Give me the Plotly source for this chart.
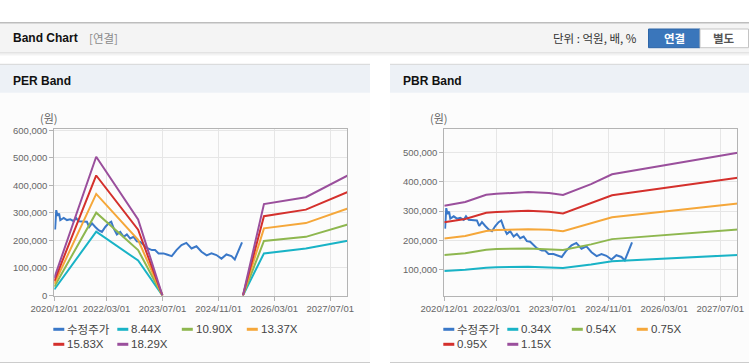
import plotly.graph_objects as go

# ---------------- data ----------------
X_TICK_VALS = ["2020-12-01", "2022-03-01", "2023-07-01", "2024-11-01", "2026-03-01", "2027-07-01"]
X_TICK_TEXT = ["2020/12/01", "2022/03/01", "2023/07/01", "2024/11/01", "2026/03/01", "2027/07/01"]
PER_Y_TICKS = [0, 100000, 200000, 300000, 400000, 500000, 600000]
PBR_Y_TICKS = [100000, 200000, 300000, 400000, 500000]

price_dates = [
    "2020-12-08", "2020-12-18", "2020-12-29", "2021-01-12", "2021-01-22", "2021-02-21",
    "2021-03-21", "2021-04-19", "2021-05-19", "2021-06-08", "2021-07-01", "2021-08-14",
    "2021-09-11", "2021-10-01", "2021-10-25", "2021-11-23", "2021-12-22", "2022-01-20",
    "2022-02-18", "2022-03-19", "2022-04-11", "2022-05-02", "2022-05-30", "2022-06-28",
    "2022-07-28", "2022-08-25", "2022-09-23", "2022-10-23", "2022-11-20", "2022-12-19",
    "2023-01-18", "2023-02-15", "2023-03-31", "2023-04-28", "2023-05-28", "2023-07-10",
    "2023-08-08", "2023-09-06", "2023-09-20", "2023-10-31", "2023-12-14", "2024-01-25",
    "2024-03-10", "2024-04-22", "2024-06-05", "2024-07-20", "2024-08-31", "2024-10-13",
    "2024-11-26", "2025-01-08", "2025-02-21", "2025-03-22", "2025-05-24",
]
price_values = [
    240000, 310000, 290000, 298000, 274000, 282000,
    274000, 277000, 270000, 282000, 270000, 270000,
    268000, 249000, 262000, 249000, 237000, 231000,
    249000, 262000, 268000, 244000, 222000, 231000,
    213000, 222000, 207000, 213000, 197000, 195000,
    183000, 173000, 165000, 165000, 153000, 153000,
    149000, 145000, 143000, 165000, 183000, 191000,
    171000, 179000, 159000, 146000, 153000, 147000,
    134000, 149000, 143000, 131000, 193000,
]

per_dates = ["2020-12-01", "2021-12-01", "2022-12-01", "2023-07-01", "2024-06-01",
             "2025-06-01", "2025-12-01", "2026-12-01", "2027-12-01"]
per_names = ["8.44X", "10.90X", "13.37X", "15.83X", "18.29X"]
per_844 = [22000, 232000, 127000, 0, None, 0, 153000, 171000, 199000]
per_1090 = [32000, 301000, 165000, 0, None, 0, 198000, 213000, 258000]
per_1337 = [42000, 369000, 202000, 0, None, 0, 244000, 263000, 316000]
per_1583 = [52000, 436000, 239000, 0, None, 0, 288000, 312000, 376000]
per_1829 = [64000, 504000, 276000, 0, None, 0, 332000, 357000, 436000]

pbr_dates = ["2020-12-01", "2021-06-01", "2021-12-01", "2022-03-01", "2022-12-01",
             "2023-06-01", "2023-10-01", "2024-06-01", "2024-12-01", "2027-12-01"]
pbr_names = ["0.34X", "0.54X", "0.75X", "0.95X", "1.15X"]
pbr_034 = [95000, 99000, 106000, 108000, 109000, 108000, 105000, 117000, 128000, 150000]
pbr_054 = [150000, 156000, 168000, 170000, 172000, 170000, 167000, 186000, 204000, 237000]
pbr_075 = [206000, 215000, 232000, 235000, 238000, 236000, 231000, 258000, 279000, 326000]
pbr_095 = [262000, 273000, 294000, 297000, 301000, 298000, 292000, 327000, 354000, 414000]
pbr_115 = [318000, 331000, 356000, 359000, 365000, 362000, 355000, 392000, 426000, 500000]

PRICE_NAME = "수정주가"
COLORS = ["#3a78c8", "#19b3c6", "#8eb74f", "#f5a73a", "#d4302c", "#9a4f9c"]

# ---------------- helpers ----------------
W, H = 749, 364
def fx(x):
    return x / W
def fy(y):
    return 1 - y / H

FONT = "Liberation Sans, Arial, Noto Sans CJK KR, sans-serif"
KFONT = "Noto Sans CJK KR, Liberation Sans, sans-serif"

fig = go.Figure()

# PER chart traces
fig.add_trace(go.Scatter(x=price_dates, y=price_values, mode="lines", name=PRICE_NAME,
                         line=dict(color=COLORS[0], width=2), xaxis="x", yaxis="y"))
for i, (nm, vals) in enumerate(zip(per_names, [per_844, per_1090, per_1337, per_1583, per_1829])):
    fig.add_trace(go.Scatter(x=per_dates, y=vals, mode="lines", name=nm, connectgaps=False,
                             line=dict(color=COLORS[i + 1], width=2), xaxis="x", yaxis="y"))

# PBR chart traces
fig.add_trace(go.Scatter(x=price_dates, y=price_values, mode="lines", name=PRICE_NAME,
                         line=dict(color=COLORS[0], width=2), xaxis="x2", yaxis="y2"))
for i, (nm, vals) in enumerate(zip(pbr_names, [pbr_034, pbr_054, pbr_075, pbr_095, pbr_115])):
    fig.add_trace(go.Scatter(x=pbr_dates, y=vals, mode="lines", name=nm,
                             line=dict(color=COLORS[i + 1], width=2), xaxis="x2", yaxis="y2"))

x_range = ["2020-12-01", "2027-11-27"]
axis_common = dict(showgrid=True, gridcolor="#e6e6e6", gridwidth=1, showline=True,
                   linecolor="#b4b4b4", linewidth=1, mirror=True, ticks="outside",
                   ticklen=4, tickcolor="#b4b4b4", zeroline=False, automargin=False,
                   tickfont=dict(family=FONT, size=9.5, color="#666666"))

PLOT_TOP, PLOT_BOT = 128.7, 295.5
per_left, per_right = 54.3, 347.3
pbr_left, pbr_right = 444.3, 737.3

fig.update_layout(
    width=W, height=H, autosize=False,
    margin=dict(l=0, r=0, t=0, b=0, pad=0, autoexpand=False),
    paper_bgcolor="white", plot_bgcolor="white",
    showlegend=False,
    xaxis=dict(domain=[fx(per_left), fx(per_right)], anchor="y", type="date", range=x_range,
               tickvals=X_TICK_VALS, ticktext=X_TICK_TEXT, **axis_common),
    yaxis=dict(domain=[fy(PLOT_BOT), fy(PLOT_TOP)], anchor="x", range=[0, 606000],
               tickvals=PER_Y_TICKS, tickformat=",d", **axis_common),
    xaxis2=dict(domain=[fx(pbr_left), fx(pbr_right)], anchor="y2", type="date", range=x_range,
                tickvals=X_TICK_VALS, ticktext=X_TICK_TEXT, **axis_common),
    yaxis2=dict(domain=[fy(PLOT_BOT), fy(PLOT_TOP)], anchor="x2", range=[11000, 582000],
                tickvals=PBR_Y_TICKS, tickformat=",d", **axis_common),
)

shapes = []
annotations = []

def rect(x0, y0, x1, y1, fill, line=None, lw=0):
    shapes.append(dict(type="rect", xref="paper", yref="paper", layer="below",
                       x0=fx(x0), x1=fx(x1), y0=fy(y1), y1=fy(y0), fillcolor=fill,
                       line=dict(color=line or fill, width=lw)))

def hline(x0, x1, y, color, lw=1, layer="below"):
    shapes.append(dict(type="line", xref="paper", yref="paper", layer=layer,
                       x0=fx(x0), x1=fx(x1), y0=fy(y), y1=fy(y), line=dict(color=color, width=lw)))

def text(x, y, s, size=12, color="#222", bold=False, xanchor="left", family=FONT):
    if bold:
        s = "<b>" + s + "</b>"
    annotations.append(dict(xref="paper", yref="paper", x=fx(x), y=fy(y), text=s, showarrow=False,
                            xanchor=xanchor, yanchor="middle", borderpad=0,
                            font=dict(family=family, size=size, color=color)))

# top header bar
rect(0, 22.5, 749, 52.7, "#f4f4f4")
hline(0, 749, 22.8, "#bdbdbd", 1.5)
hline(0, 749, 53.0, "#cfcfcf", 1)
rect(0, 53.5, 749, 55.5, "#f3f3f3")
text(11.5, 38.5, "Band Chart", 12, "#111", bold=True)
text(88, 38.5, "[연결]", 11.5, "#8a8a8a", family=KFONT)
text(552, 38.5, "단위 : 억원, 배, %", 11.5, "#333", family=KFONT)
rect(648.5, 29, 700, 47.7, "#3a76bb", "#2e66a8", 1)
text(674.2, 38.3, "연결", 11.5, "#ffffff", bold=True, xanchor="center", family=KFONT)
rect(700, 29, 748.5, 47.7, "#ffffff", "#c4c4c4", 1)
text(724.2, 38.3, "별도", 11.5, "#555555", bold=True, xanchor="center", family=KFONT)

# panels
for (px0, px1, title) in [(0, 370, "PER Band"), (390, 749, "PBR Band")]:
    rect(px0, 92.7, px1, 362, "#fcfcfc")
    rect(px0, 64.3, px1, 92.7, "#edf1f6")
    hline(px0, px1, 64.3, "#d6d6d6", 1)
    hline(px0, px1, 362.5, "#cccccc", 1.2)
    text(px0 + 11.7, 80.5, title, 12, "#111", bold=True)

# unit labels
text(49, 118.5, "(원)", 11, "#666", xanchor="center", family=KFONT)
text(438.5, 118.5, "(원)", 11, "#666", xanchor="center", family=KFONT)

# legends (manual, 4 columns, 2 rows)
col_off = [-1, 63, 127.5, 192.5]
row_y = [329.3, 344.3]
for left, names in [(per_left, per_names), (pbr_left, pbr_names)]:
    items = [PRICE_NAME] + names
    for k, nm in enumerate(items):
        r, c = divmod(k, 4)
        x0 = left + col_off[c]
        yy = row_y[r]
        shapes.append(dict(type="line", xref="paper", yref="paper", layer="above",
                           x0=fx(x0), x1=fx(x0 + 11), y0=fy(yy), y1=fy(yy),
                           line=dict(color=COLORS[k], width=3)))
        text(x0 + 13, yy, nm, 11.5, "#444", family=FONT if k else KFONT)

fig.update_layout(shapes=shapes, annotations=annotations)
fig.write_html("out.html",
               config={"displayModeBar": False, "staticPlot": True},
               post_script="document.body.style.margin='0px';document.body.style.padding='0px';"
                           "document.documentElement.style.overflow='hidden';")
